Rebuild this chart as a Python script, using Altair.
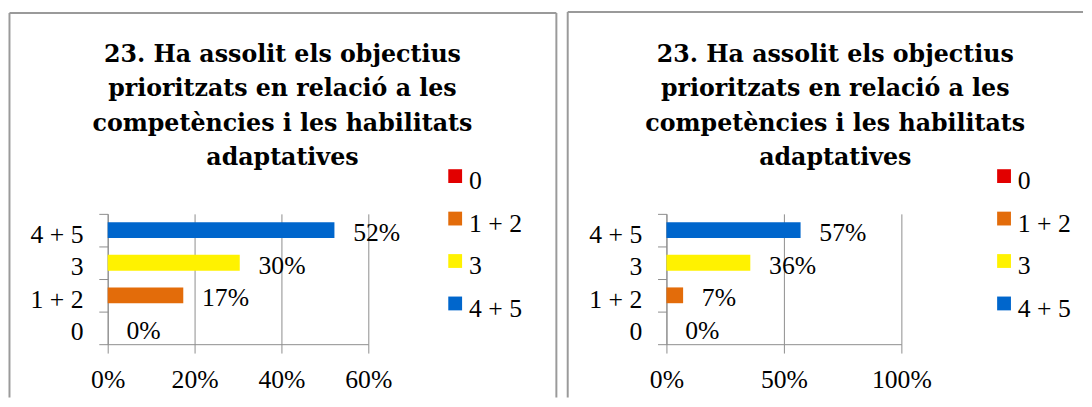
import altair as alt
import pandas as pd

# ---- data ----
categories = ["0", "1 + 2", "3", "4 + 5"]
left_values = [0.0, 0.174, 0.304, 0.522]
right_values = [0.0, 0.071, 0.357, 0.571]
row_order = ["4 + 5", "3", "1 + 2", "0"]
colors = ["#e20000", "#e36c0a", "#fff200", "#0066cc"]
title_lines = [
    "23. Ha assolit els objectius",
    "prioritzats en relació a les",
    "competències i les habilitats",
    "adaptatives",
]
left_ticks = [0, 0.2, 0.4, 0.6]
right_ticks = [0, 0.5, 1.0]

# ---- style ----
GREY = "#8c8c8c"
FRAME = "#9a9a9a"
SERIF = "Liberation Serif"
SQ_PATH = "M-1,-1.75H1V0.25H-1Z"
H = 132


def panel(values, ticks, xmax, width, legend_x, title_dx, title_dy, frame):
    df = pd.DataFrame({"cat": categories, "value": values})
    one = pd.DataFrame({"k": [0]})
    x = alt.X(
        "value:Q",
        scale=alt.Scale(domain=[0, xmax], nice=False),
        axis=alt.Axis(
            values=ticks, format=".0%", title=None, grid=True, gridColor=GREY,
            gridOpacity=1, domainColor=GREY, tickColor=GREY, tickSize=9,
            labelPadding=14, labelFont=SERIF, labelFontSize=26,
            labelColor="black", labelFlush=False, labelOverlap=False,
        ),
    )
    y = alt.Y(
        "cat:N",
        sort=row_order,
        scale=alt.Scale(paddingInner=0, paddingOuter=0),
        axis=alt.Axis(
            title=None, tickBand="extent", domainColor=GREY, tickColor=GREY,
            tickSize=9, labelPadding=16, labelOffset=4, labelFont=SERIF,
            labelFontSize=26, labelColor="black", labelBaseline="middle",
        ),
    )
    bars = alt.Chart(df).mark_bar(size=16).encode(
        x=x,
        y=y,
        color=alt.Color(
            "cat:N",
            scale=alt.Scale(domain=categories, range=colors),
            legend=alt.Legend(
                title=None, orient="none", legendX=legend_x, legendY=-46,
                direction="vertical", symbolType=SQ_PATH, symbolSize=196,
                symbolStrokeWidth=0, symbolOpacity=1, labelFont=SERIF,
                labelFontSize=26, labelColor="black", labelOffset=1,
                rowPadding=17, padding=0, labelBaseline="middle",
            ),
        ),
    )
    labels = alt.Chart(df).mark_text(
        align="left", baseline="middle", dx=19, dy=3, font=SERIF,
        fontSize=26, color="black",
    ).encode(x=x, y=y, text=alt.Text("value:Q", format=".0%"))

    fx0, fx1, fy0, fy1, draw_right = frame
    rule = alt.Chart(one).mark_rule(color=FRAME, strokeWidth=2)
    layers = [
        rule.encode(x=alt.value(fx0), x2=alt.value(fx1), y=alt.value(fy0)),
        rule.encode(x=alt.value(fx0), y=alt.value(fy0), y2=alt.value(fy1)),
    ]
    if draw_right:
        layers.append(rule.encode(x=alt.value(fx1), y=alt.value(fy0), y2=alt.value(fy1)))
    layers += [bars, labels]
    return alt.layer(
        *layers,
        title=alt.TitleParams(
            text=title_lines, font="DejaVu Serif", fontSize=24,
            fontWeight="bold", color="black", anchor="middle", frame="group",
            offset=0, dx=title_dx, dy=title_dy, lineHeight=34.8,
            baseline="bottom",
        ),
    ).properties(width=width, height=H)


left = panel(left_values, left_ticks, 0.6, 264, 339, 45, 184, (-99.5, 454.5, -203.5, 186, True))
right = panel(right_values, right_ticks, 1.0, 238, 329, 52, 185, (-100, 422, -204.5, 186, False))

chart = (
    alt.hconcat(left, right, spacing=9)
    .resolve_scale(color="independent")
    .resolve_legend(color="independent")
    .properties(padding=0, background="white")
    .configure_view(stroke=None)
)

chart.save("out.html", embed_options={"renderer": "svg", "actions": False})
